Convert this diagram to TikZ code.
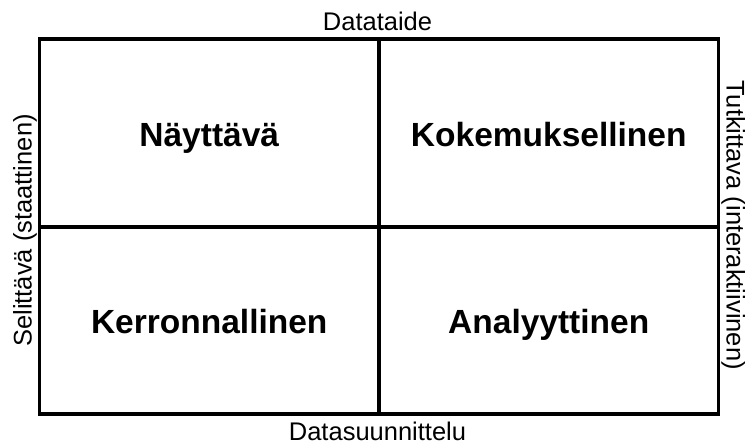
\documentclass[tikz,border=0pt]{standalone}
\usepackage{fontspec}
\setmainfont{Liberation Sans}
\usetikzlibrary{positioning}

\begin{document}
\begin{tikzpicture}[x=1pt, y=-1pt,
  cell/.style={draw, line width=3.8pt, minimum width=339.5pt, minimum height=187.5pt,
    font=\fontsize{33.5}{36}\selectfont\bfseries, inner sep=0pt,
    text height=26pt, text depth=0pt},
  axis/.style={font=\fontsize{25.5}{28}\selectfont, inner sep=0pt, anchor=base}
]
\useasboundingbox (0,0) rectangle (746,444);
% quadrants
\node[cell] (nw) at (209.25,133) {Näyttävä};
\node[cell] (ne) at (548.75,133) {Kokemuksellinen};
\node[cell] (sw) at (209.25,320.5) {Kerronnallinen};
\node[cell] (se) at (548.75,320.5) {Analyyttinen};
% axis labels
\node[axis] (top) at (377.5,31) {Datataide};
\node[axis] (bottom) at (377.5,440) {Datasuunnittelu};
\node[axis, rotate=90] (left) at (31.5,230.5) {Selittävä (staattinen)};
\node[axis, rotate=-90] (right) at (726.5,225) {Tutkittava (interaktiivinen)};
\end{tikzpicture}
\end{document}
